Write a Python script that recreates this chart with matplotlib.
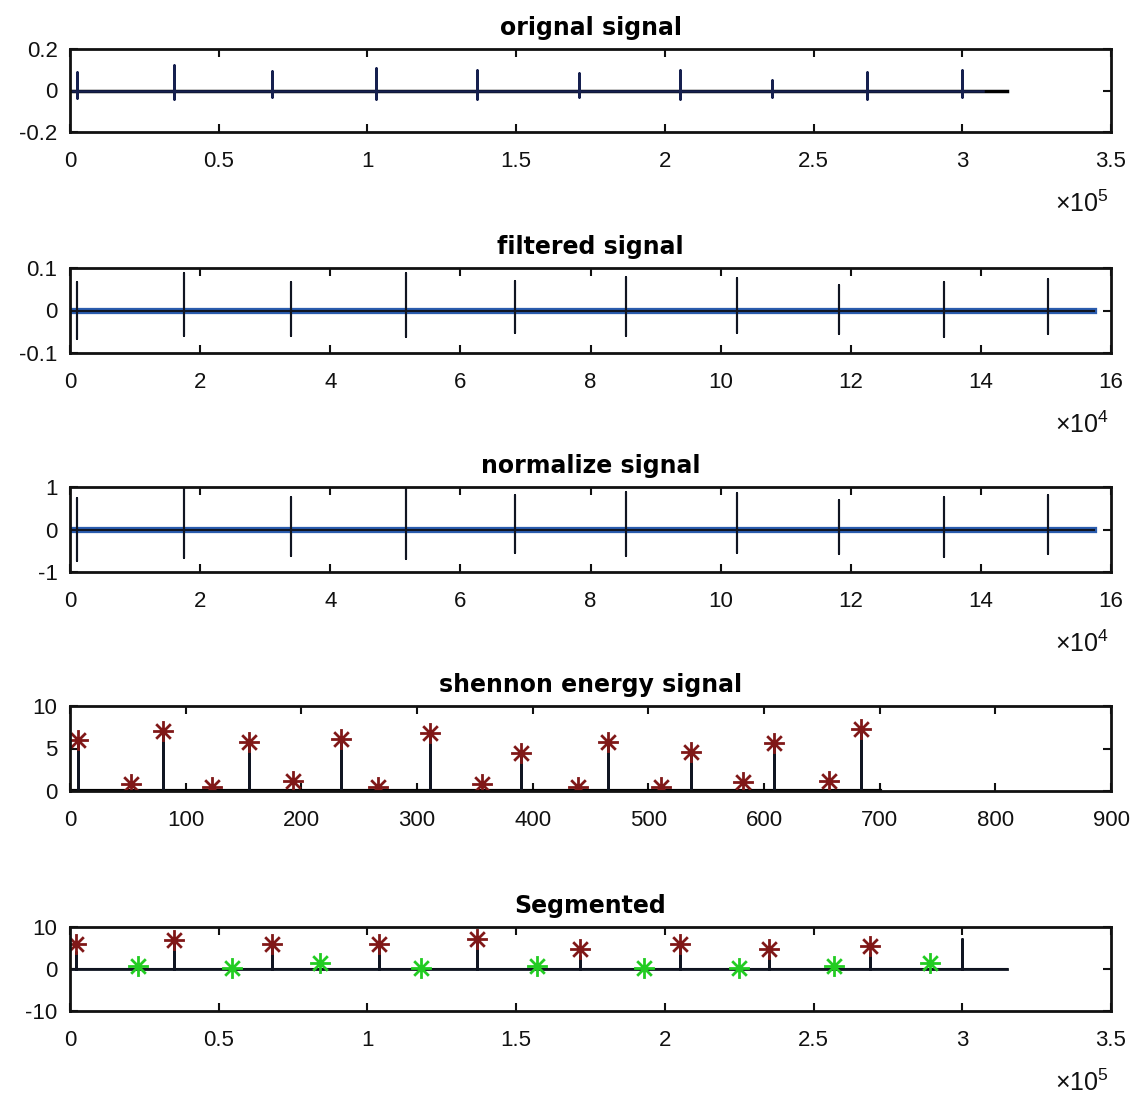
import numpy as np
import matplotlib
matplotlib.use("Agg")
import matplotlib.pyplot as plt
from matplotlib.path import Path
from matplotlib.ticker import FuncFormatter

plt.rcParams['font.family'] = ['Liberation Sans', 'DejaVu Sans']
plt.rcParams['axes.unicode_minus'] = False
plt.rcParams['mathtext.default'] = 'regular'

# orignal signal (sample index, amplitude)
orig_end = 307000
orig_axis_end = 315000
orig_peak_x = [2400, 35000, 68000, 103000, 137000, 171000, 205000, 236000, 268000, 300000]
orig_peak_hi = [0.09, 0.124, 0.095, 0.11, 0.10, 0.086, 0.10, 0.052, 0.09, 0.10]
orig_peak_lo = [-0.035, -0.043, -0.03, -0.04, -0.043, -0.03, -0.043, -0.03, -0.04, -0.03]

# filtered signal
filt_end = 157400
filt_peak_x = [1100, 17500, 34000, 51600, 68400, 85500, 102500, 118200, 134300, 150300]
filt_peak_hi = [0.067, 0.088, 0.067, 0.088, 0.07, 0.078, 0.076, 0.06, 0.067, 0.073]
filt_peak_lo = [-0.067, -0.06, -0.06, -0.063, -0.052, -0.06, -0.052, -0.055, -0.062, -0.055]

# normalize signal (same beat positions as filtered)
norm_peak_hi = [0.74, 1.0, 0.76, 1.0, 0.81, 0.88, 0.86, 0.69, 0.76, 0.81]
norm_peak_lo = [-0.74, -0.67, -0.62, -0.7, -0.55, -0.62, -0.55, -0.57, -0.64, -0.57]

# shannon energy
sh_end = 700
sh_peak_x = [7, 80, 155, 234, 311, 390, 465, 537, 609, 684]
sh_peak_y = [6.0, 7.1, 5.8, 6.1, 6.8, 4.5, 5.8, 4.6, 5.6, 7.3]
sh_low_x = [53, 123, 193, 266, 356, 439, 511, 582, 656]
sh_low_y = [0.8, 0.5, 1.2, 0.5, 0.8, 0.5, 0.5, 1.1, 1.2]

# segmented
seg_end = 315000
seg_red_x = [2000, 35000, 68000, 104000, 137000, 171500, 205000, 235000, 269000]
seg_red_y = [6.0, 6.9, 6.0, 6.0, 7.1, 4.7, 6.0, 4.7, 5.5]
seg_green_x = [23000, 54500, 84000, 118000, 157000, 193000, 225000, 257000, 289000]
seg_green_y = [0.7, 0.2, 1.5, 0.2, 0.7, 0.2, 0.2, 0.7, 1.5]
seg_spike_x = [2000, 35000, 68000, 104000, 137000, 171500, 205000, 235000, 269000, 300000]
seg_spike_y = [4.0, 6.7, 5.2, 5.0, 6.5, 3.0, 5.5, 3.0, 3.8, 7.1]

RED = '#801818'
GREEN = '#22cc22'
NAVY = '#16204f'
BLUE = '#2a5cae'
DARK = '#101522'

# matlab style asterisk
M, L = Path.MOVETO, Path.LINETO
ast = Path([(-1, 0), (1, 0), (0, -1), (0, 1), (-.7, -.7), (.7, .7), (-.7, .7), (.7, -.7)],
           [M, L, M, L, M, L, M, L])


def spikes(xs, hi, lo, end):
    px, py = [0], [0]
    for x, h, l in zip(xs, hi, lo):
        px += [x, x, x, x]
        py += [0, h, l, 0]
    px.append(end)
    py.append(0)
    return px, py


def style(ax, xlim, xticks, ylim, yticks, title, exp=None):
    ax.set_xlim(xlim)
    ax.set_ylim(ylim)
    ax.set_xticks(xticks)
    ax.set_yticks(yticks)
    ax.yaxis.set_major_formatter(FuncFormatter(lambda v, p: f"{v:g}"))
    if exp:
        ax.xaxis.set_major_formatter(FuncFormatter(lambda v, p: f"{v / 10**exp:g}"))
        ax.annotate(r'$\times10^{%d}$' % exp, xy=(1, 0), xycoords='axes fraction',
                    xytext=(-2, -80), textcoords='offset pixels', ha='right',
                    va='baseline', fontsize=18, color='#111111')
    ax.tick_params(direction='in', length=6, width=1.5, top=True, right=True,
                   labelsize=16, colors='#111111')
    ax.tick_params(axis='x', pad=14)
    ax.tick_params(axis='y', pad=9)
    for s in ax.spines.values():
        s.set_linewidth(2)
        s.set_color('#111111')
    ax.set_title(title, fontsize=17, fontweight='bold', family='DejaVu Sans', pad=10)


fig = plt.figure(figsize=(11.4, 11.0), dpi=100)
W, H = 1140, 1100
boxes = [(49, 132), (268, 353), (487, 572), (706, 791), (927, 1011)]
axs = [fig.add_axes([70 / W, 1 - b / H, 1041 / W, (b - t) / H]) for t, b in boxes]

# 1 orignal
ax = axs[0]
ax.plot([0, orig_axis_end], [0, 0], color='black', lw=2.5)
px, py = spikes(orig_peak_x, orig_peak_hi, orig_peak_lo, orig_end)
ax.plot(px, py, color=NAVY, lw=1.8)
style(ax, (0, 350000), np.arange(0, 350001, 50000), (-0.2, 0.2), [-0.2, 0, 0.2],
      'orignal signal', exp=5)

# 2 filtered
ax = axs[1]
ax.plot([0, filt_end], [0, 0], color=BLUE, lw=4.5)
px, py = spikes(filt_peak_x, filt_peak_hi, filt_peak_lo, filt_end)
ax.plot(px, py, color=DARK, lw=1.5)
style(ax, (0, 160000), np.arange(0, 160001, 20000), (-0.1, 0.1), [-0.1, 0, 0.1],
      'filtered signal', exp=4)

# 3 normalize
ax = axs[2]
ax.plot([0, filt_end], [0, 0], color=BLUE, lw=4.5)
px, py = spikes(filt_peak_x, norm_peak_hi, norm_peak_lo, filt_end)
ax.plot(px, py, color=DARK, lw=1.5)
style(ax, (0, 160000), np.arange(0, 160001, 20000), (-1, 1), [-1, 0, 1],
      'normalize signal', exp=4)

# 4 shannon energy
ax = axs[3]
ax.plot([0, sh_end], [0, 0], color='black', lw=3)
px, py = spikes(sh_peak_x, sh_peak_y, [0] * len(sh_peak_x), sh_end)
ax.plot(px, py, color=DARK, lw=1.8)
ax.plot(sh_peak_x, sh_peak_y, ls='none', marker=ast, ms=15, mew=2, color=RED)
ax.plot(sh_low_x, sh_low_y, ls='none', marker=ast, ms=15, mew=2, color=RED)
style(ax, (0, 900), np.arange(0, 901, 100), (0, 10), [0, 5, 10],
      'shennon energy signal')

# 5 segmented
ax = axs[4]
ax.plot([0, seg_end], [0, 0], color='black', lw=1.5)
px, py = spikes(seg_spike_x, seg_spike_y, [0] * len(seg_spike_x), seg_end)
ax.plot(px, py, color=DARK, lw=2)
ax.plot(seg_red_x, seg_red_y, ls='none', marker=ast, ms=15, mew=2, color=RED)
ax.plot(seg_green_x, seg_green_y, ls='none', marker=ast, ms=15, mew=2, color=GREEN)
style(ax, (0, 350000), np.arange(0, 350001, 50000), (-10, 10), [-10, 0, 10],
      'Segmented', exp=5)

fig.savefig('out.png', dpi=100)
